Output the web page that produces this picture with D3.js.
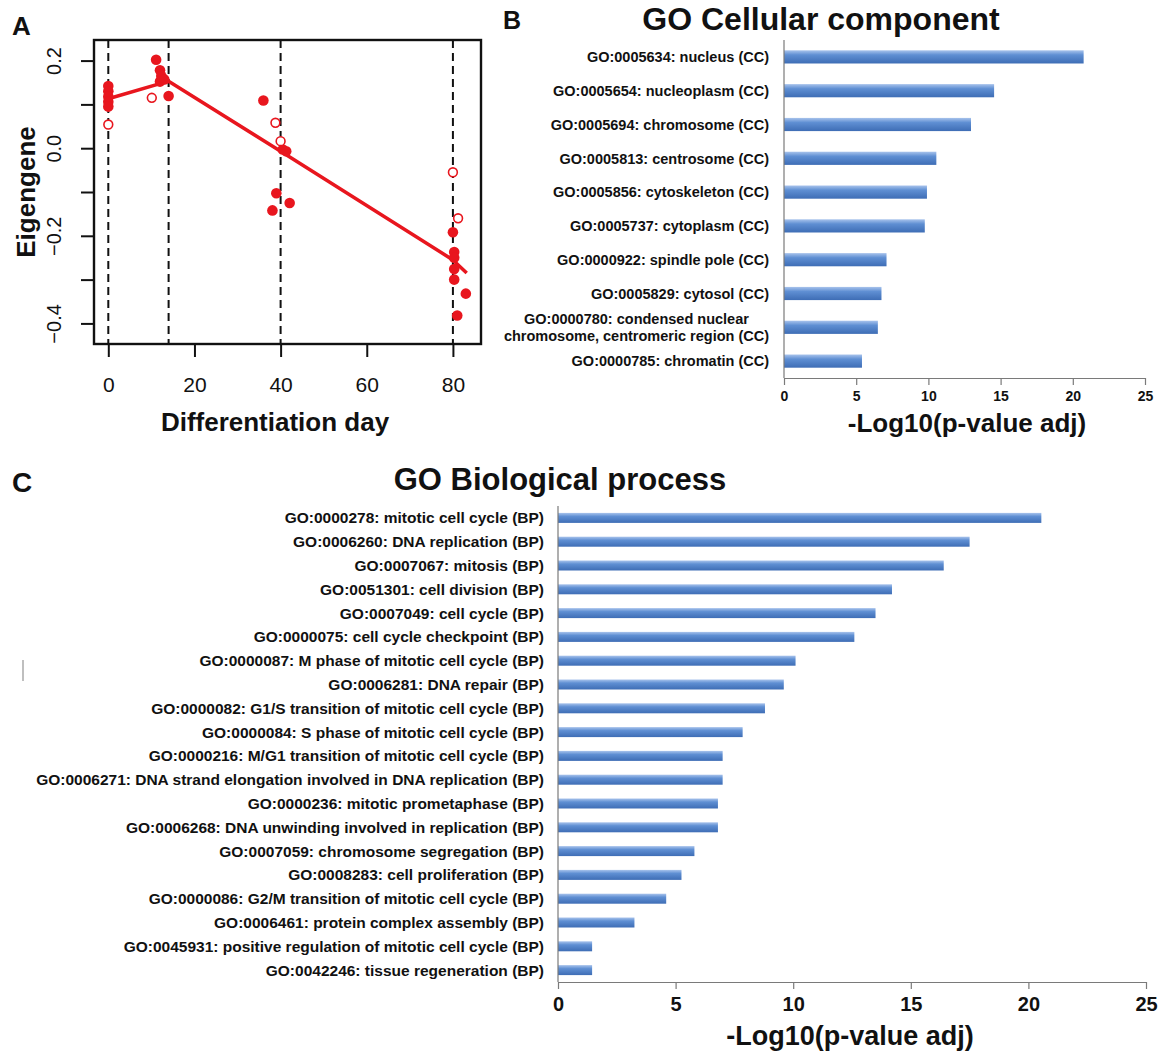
<!DOCTYPE html>
<html>
<head>
<meta charset="utf-8">
<script src="https://cdn.jsdelivr.net/npm/d3@7"></script>
<style>
  body { margin: 0; background: #fff; }
  svg { display: block; }
  text { font-family: "Liberation Sans", Arial, Helvetica, sans-serif; fill: #111; }
</style>
</head>
<body>
<svg id="fig" width="1161" height="1053"></svg>
<script>
// ---------- Panel A: module eigengene over differentiation time ----------
const filledDays   = [0, 0, 0, 0, 0, 11.1, 12, 12.3, 12, 13, 14, 36, 40.5, 41.3, 39, 38.1, 42.1,
                      80, 80.3, 80.3, 80.3, 80.3, 83, 81];
const filledValues = [0.142, 0.130, 0.118, 0.106, 0.095, 0.202, 0.178, 0.165, 0.152, 0.157, 0.119,
                      0.109, -0.003, -0.007, -0.103, -0.142, -0.125,
                      -0.192, -0.237, -0.250, -0.276, -0.300, -0.332, -0.382];
const openDays     = [0, 10.1, 38.8, 40, 80, 81.2];
const openValues   = [0.054, 0.115, 0.058, 0.016, -0.055, -0.160];
const fitDays      = [0, 14, 40, 80, 83.2];
const fitValues    = [0.113, 0.153, -0.007, -0.255, -0.285];
const stageDays    = [0, 14, 40, 80];
const dayTicks     = [0, 20, 40, 60, 80];
const eigenTicks   = [-0.4, -0.3, -0.2, -0.1, 0.0, 0.1, 0.2];
const eigenLabeled = [-0.4, -0.2, 0.0, 0.2];

// ---------- Panel B: GO cellular component ----------
const ccTerms = [
  "GO:0005634: nucleus (CC)",
  "GO:0005654: nucleoplasm (CC)",
  "GO:0005694: chromosome (CC)",
  "GO:0005813: centrosome (CC)",
  "GO:0005856: cytoskeleton (CC)",
  "GO:0005737: cytoplasm (CC)",
  "GO:0000922: spindle pole (CC)",
  "GO:0005829: cytosol (CC)",
  "GO:0000780: condensed nuclear\nchromosome, centromeric region (CC)",
  "GO:0000785: chromatin (CC)"
];
const ccValues = [20.75, 14.55, 12.95, 10.55, 9.9, 9.75, 7.1, 6.75, 6.5, 5.4];

// ---------- Panel C: GO biological process ----------
const bpTerms = [
  "GO:0000278: mitotic cell cycle (BP)",
  "GO:0006260: DNA replication (BP)",
  "GO:0007067: mitosis (BP)",
  "GO:0051301: cell division (BP)",
  "GO:0007049: cell cycle (BP)",
  "GO:0000075: cell cycle checkpoint (BP)",
  "GO:0000087: M phase of mitotic cell cycle (BP)",
  "GO:0006281: DNA repair (BP)",
  "GO:0000082: G1/S transition of mitotic cell cycle (BP)",
  "GO:0000084: S phase of mitotic cell cycle (BP)",
  "GO:0000216: M/G1 transition of mitotic cell cycle (BP)",
  "GO:0006271: DNA strand elongation involved in DNA replication (BP)",
  "GO:0000236: mitotic prometaphase (BP)",
  "GO:0006268: DNA unwinding involved in replication (BP)",
  "GO:0007059: chromosome segregation (BP)",
  "GO:0008283: cell proliferation (BP)",
  "GO:0000086: G2/M transition of mitotic cell cycle (BP)",
  "GO:0006461: protein complex assembly (BP)",
  "GO:0045931: positive regulation of mitotic cell cycle (BP)",
  "GO:0042246: tissue regeneration (BP)"
];
const bpValues = [20.55, 17.5, 16.4, 14.2, 13.5, 12.6, 10.1, 9.6, 8.8, 7.85,
                  7.0, 7.0, 6.8, 6.8, 5.8, 5.25, 4.6, 3.25, 1.45, 1.45];
const pTicks = [0, 5, 10, 15, 20, 25];

const svg = d3.select("#fig");
const RED = "#e8161e";

// shared bar fill
const defs = svg.append("defs");
const grad = defs.append("linearGradient").attr("id", "barFill")
  .attr("x1", 0).attr("y1", 0).attr("x2", 0).attr("y2", 1);
grad.append("stop").attr("offset", "0%").attr("stop-color", "#a8c3ec");
grad.append("stop").attr("offset", "35%").attr("stop-color", "#5f8fd3");
grad.append("stop").attr("offset", "100%").attr("stop-color", "#3e6db5");

// ===== Panel A =====
(function () {
  const box = { left: 94, right: 481, top: 40, bottom: 344 };
  const x = d3.scaleLinear().domain([-3.32, 86.52]).range([box.left, box.right]);
  const y = d3.scaleLinear().domain([-0.447, 0.247]).range([box.bottom, box.top]);
  const g = svg.append("g");

  g.append("text").text("A").attr("x", 12).attr("y", 35)
    .style("font-size", "26px").style("font-weight", "bold");

  // stage boundaries
  g.selectAll("line.stage").data(stageDays).join("line").attr("class", "stage")
    .attr("x1", d => x(d)).attr("x2", d => x(d))
    .attr("y1", box.top).attr("y2", box.bottom)
    .attr("stroke", "#111").attr("stroke-width", 2).attr("stroke-dasharray", "8,5");

  // fitted trend
  const fit = d3.line().x((d, i) => x(fitDays[i])).y(d => y(d));
  g.append("path").datum(fitValues).attr("d", fit)
    .attr("fill", "none").attr("stroke", RED).attr("stroke-width", 3.5)
    .attr("stroke-linejoin", "round");

  // samples
  g.selectAll("circle.filled").data(filledValues).join("circle").attr("class", "filled")
    .attr("cx", (d, i) => x(filledDays[i])).attr("cy", d => y(d)).attr("r", 5.3)
    .attr("fill", RED);
  g.selectAll("circle.open").data(openValues).join("circle").attr("class", "open")
    .attr("cx", (d, i) => x(openDays[i])).attr("cy", d => y(d)).attr("r", 4.4)
    .attr("fill", "#fff").attr("stroke", RED).attr("stroke-width", 1.6);

  // frame
  g.append("rect").attr("x", box.left).attr("y", box.top)
    .attr("width", box.right - box.left).attr("height", box.bottom - box.top)
    .attr("fill", "none").attr("stroke", "#111").attr("stroke-width", 2.4);

  // x axis
  const xa = g.append("g").attr("transform", `translate(0,${box.bottom})`)
    .call(d3.axisBottom(x).tickValues(dayTicks).tickSize(13).tickPadding(0).tickFormat(d3.format("d")));
  xa.select(".domain").remove();
  xa.selectAll(".tick line").attr("stroke", "#111").attr("stroke-width", 2);
  xa.selectAll(".tick text").attr("y", 48).attr("dy", null)
    .style("font-size", "21px").style("font-family", "'Liberation Sans', Arial, sans-serif");

  // y axis
  const ya = g.append("g").attr("transform", `translate(${box.left},0)`)
    .call(d3.axisLeft(y).tickValues(eigenTicks).tickSize(13)
      .tickFormat(d => eigenLabeled.some(v => Math.abs(v - d) < 1e-9) ? d3.format(".1f")(d) : ""));
  ya.select(".domain").remove();
  ya.selectAll(".tick line").attr("stroke", "#111").attr("stroke-width", 2);
  ya.selectAll(".tick text").attr("x", null).attr("dy", null)
    .attr("transform", "translate(-33,0) rotate(-90)").attr("text-anchor", "middle")
    .style("font-size", "20px").style("font-family", "'Liberation Sans', Arial, sans-serif");

  g.append("text").text("Differentiation day").attr("x", 275).attr("y", 431)
    .attr("text-anchor", "middle").style("font-size", "26px").style("font-weight", "bold");
  g.append("text").text("Eigengene")
    .attr("transform", `translate(35,${(box.top + box.bottom) / 2}) rotate(-90)`)
    .attr("text-anchor", "middle").style("font-size", "26px").style("font-weight", "bold");
})();

// ===== horizontal GO bar chart =====
function goBars(opt) {
  const g = svg.append("g");
  const x = d3.scaleLinear().domain([0, 25]).range([opt.x0, opt.x1]);
  const y = d3.scaleBand().domain(opt.terms).range([opt.yTop, opt.yBottom])
    .paddingInner(opt.pad).paddingOuter(opt.pad / 2);

  g.append("text").text(opt.letter).attr("x", opt.letterX).attr("y", opt.letterY)
    .style("font-size", opt.letterSize + "px").style("font-weight", "bold");
  g.append("text").text(opt.title).attr("x", opt.titleX).attr("y", opt.titleY)
    .attr("text-anchor", "middle").style("font-size", opt.titleSize + "px").style("font-weight", "bold");

  g.selectAll("rect.bar").data(opt.values).join("rect").attr("class", "bar")
    .attr("x", x(0)).attr("y", (d, i) => y(opt.terms[i]))
    .attr("width", d => x(d) - x(0)).attr("height", y.bandwidth())
    .attr("fill", "url(#barFill)");

  // category axis: plain line, labels set right-aligned
  g.append("line").attr("x1", x(0)).attr("x2", x(0))
    .attr("y1", opt.yTop).attr("y2", opt.yBottom)
    .attr("stroke", "#7a7a7a").attr("stroke-width", 1.2);

  const lab = g.selectAll("text.term").data(opt.terms).join("text").attr("class", "term")
    .style("font-size", opt.labelSize + "px").style("font-weight", "bold");
  lab.each(function (d) {
    const t = d3.select(this);
    const lines = d.split("\n");
    const cy = y(d) + y.bandwidth() / 2;
    const rx = x(0) - opt.labelGap;
    if (lines.length === 1) {
      t.attr("x", rx).attr("y", cy).attr("dy", "0.36em").attr("text-anchor", "end").text(d);
    } else {
      const lh = opt.labelSize * 1.12;
      lines.forEach((s, k) => {
        t.append("tspan").attr("y", cy + (k - (lines.length - 1) / 2) * lh)
          .attr("dy", "0.36em").text(s);
      });
      // centre the lines as a block that ends at the label edge
      const w = d3.max(t.selectAll("tspan").nodes(), n => n.getComputedTextLength());
      t.attr("text-anchor", "middle");
      t.selectAll("tspan").attr("x", rx - w / 2);
    }
  });

  const xa = g.append("g").attr("transform", `translate(0,${opt.yBottom})`)
    .call(d3.axisBottom(x).tickValues(pTicks).tickSize(7).tickPadding(opt.tickPad).tickSizeOuter(0));
  xa.select(".domain").attr("stroke", "#7a7a7a").attr("stroke-width", 1.2);
  xa.selectAll(".tick line").attr("stroke", "#7a7a7a").attr("stroke-width", 1.2);
  xa.selectAll(".tick text").style("font-size", opt.tickSize + "px").style("font-weight", "bold")
    .style("font-family", "'Liberation Sans', Arial, sans-serif").attr("fill", "#111");

  g.append("text").text("-Log10(p-value adj)").attr("x", opt.axisTitleX).attr("y", opt.axisTitleY)
    .attr("text-anchor", "middle").style("font-size", opt.axisTitleSize + "px").style("font-weight", "bold");
}

goBars({
  letter: "B", letterX: 503, letterY: 29, letterSize: 25,
  title: "GO Cellular component", titleX: 821, titleY: 30, titleSize: 32,
  terms: ccTerms, values: ccValues,
  x0: 784, x1: 1145, yTop: 40, yBottom: 378, pad: 0.61,
  labelSize: 14.5, labelGap: 15,
  tickSize: 14, tickPad: 6,
  axisTitleX: 967, axisTitleY: 432, axisTitleSize: 26
});

goBars({
  letter: "C", letterX: 12, letterY: 492, letterSize: 28,
  title: "GO Biological process", titleX: 560, titleY: 490, titleSize: 31,
  terms: bpTerms, values: bpValues,
  x0: 558, x1: 1146, yTop: 506, yBottom: 982, pad: 0.58,
  labelSize: 15.5, labelGap: 14,
  tickSize: 20, tickPad: 8,
  axisTitleX: 850, axisTitleY: 1045, axisTitleSize: 27
});

// small stray tick at the left margin of panel C
svg.append("line").attr("x1", 23).attr("x2", 23).attr("y1", 660).attr("y2", 681)
  .attr("stroke", "#aaa").attr("stroke-width", 1.5);
</script>
</body>
</html>
